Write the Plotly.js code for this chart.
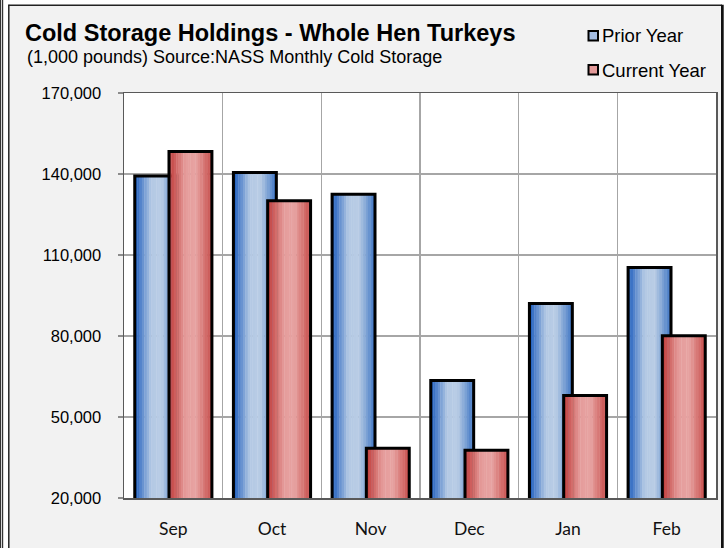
<!DOCTYPE html>
<html>
<head>
<meta charset="utf-8">
<script src="https://cdn.plot.ly/plotly-3.0.1.min.js"></script>
<style>
html,body{margin:0;padding:0;background:#fff;}
#chart{width:728px;height:548px;}
</style>
</head>
<body>
<div id="chart"></div>
<script>
// ---- data ----
const months = ['Sep', 'Oct', 'Nov', 'Dec', 'Jan', 'Feb'];
const priorYear = [139300, 140600, 132500, 63500, 92000, 105400];
const currentYear = [148300, 130100, 38400, 37700, 58000, 80100];
const seriesNames = ['Prior Year', 'Current Year'];
const yTickVals = [20000, 50000, 80000, 110000, 140000, 170000];

// ---- geometry / style ----
const W = 728, H = 548;
const M = {l: 124, r: 12, t: 93, b: 50};
const PW = W - M.l - M.r, PH = H - M.t - M.b;
const px2x = px => (px - M.l) / PW;
const py2y = py => 1 - (py - M.t) / PH;

const barW = 0.435, overlap = 0.088;
const off0 = -(2 * barW - overlap) / 2;
const offsets = [off0, off0 + barW - overlap];

const gradKeys = [
  [[0, '#1B5BBC'], [0.38, '#B3C8E4'], [0.62, '#B9CDE5'], [1, '#3A72C3']],
  [[0, '#C03B39'], [0.38, '#E59C9B'], [0.62, '#E7A3A2'], [1, '#C64A48']]
];
function hex2rgb(h){return [1,3,5].map(i=>parseInt(h.substr(i,2),16));}
function grad(keys, t){
  for (let i = 0; i < keys.length - 1; i++) {
    const [t0, c0] = keys[i], [t1, c1] = keys[i+1];
    if (t <= t1) {
      const f = (t - t0) / (t1 - t0);
      const a = hex2rgb(c0), b = hex2rgb(c1);
      return 'rgb(' + a.map((v, j) => Math.round(v + (b[j] - v) * f)).join(',') + ')';
    }
  }
  return keys[keys.length-1][1];
}

const N = 18;
const traces = [];
[priorYear, currentYear].forEach((vals, s) => {
  for (let k = 0; k < N; k++) {
    traces.push({
      type: 'bar', x: months, y: vals, name: seriesNames[s],
      width: barW / N * 1.15, offset: offsets[s] + k * barW / N,
      marker: {color: grad(gradKeys[s], (k + 0.5) / N), line: {width: 0}},
      showlegend: false, hoverinfo: 'skip'
    });
  }
  traces.push({
    type: 'bar', x: months, y: vals, name: seriesNames[s],
    width: barW, offset: offsets[s],
    marker: {color: 'rgba(0,0,0,0)', line: {color: '#000', width: 3}},
    showlegend: false
  });
});

const shapes = [
  // outer white margins and frame
  {type:'rect', xref:'paper', yref:'paper', x0:px2x(0), x1:px2x(8.3), y0:py2y(H), y1:py2y(0), fillcolor:'#fff', line:{width:0}},
  {type:'rect', xref:'paper', yref:'paper', x0:px2x(0), x1:px2x(W), y0:py2y(4.7), y1:py2y(0), fillcolor:'#fff', line:{width:0}},
  {type:'rect', xref:'paper', yref:'paper', x0:px2x(723.7), x1:px2x(W), y0:py2y(H), y1:py2y(0), fillcolor:'#fff', line:{width:0}},
  {type:'line', xref:'paper', yref:'paper', x0:px2x(0.6), x1:px2x(0.6), y0:py2y(H), y1:py2y(0), line:{color:'#333', width:1.2}},
  {type:'line', xref:'paper', yref:'paper', x0:px2x(2.6), x1:px2x(2.6), y0:py2y(H), y1:py2y(0), line:{color:'#333', width:1.2}},
  {type:'line', xref:'paper', yref:'paper', x0:px2x(8.8), x1:px2x(8.8), y0:py2y(H), y1:py2y(4.7), line:{color:'#222', width:1.5}},
  {type:'line', xref:'paper', yref:'paper', x0:px2x(8.3), x1:px2x(722), y0:py2y(5.2), y1:py2y(5.2), line:{color:'#222', width:1.5}},
  {type:'rect', xref:'paper', yref:'paper', x0:px2x(721), x1:px2x(723.7), y0:py2y(H), y1:py2y(4.7), fillcolor:'#111', line:{width:0}},
  // legend boxes
  {type:'rect', xref:'paper', yref:'paper', x0:px2x(588.5), x1:px2x(598), y0:py2y(40.5), y1:py2y(31), fillcolor:'#A3BDE3', line:{color:'#000', width:2}},
  {type:'rect', xref:'paper', yref:'paper', x0:px2x(588.5), x1:px2x(598), y0:py2y(74.5), y1:py2y(65), fillcolor:'#E39A99', line:{color:'#000', width:2}}
];

const annotations = [
  {xref:'paper', yref:'paper', x:px2x(25), y:py2y(57), xanchor:'left', yanchor:'middle', showarrow:false,
   text:'(1,000 pounds) Source:NASS Monthly Cold Storage', font:{family:'Liberation Sans, Arial', size:18, color:'#000'}},
  {xref:'paper', yref:'paper', x:px2x(600), y:py2y(36), xanchor:'left', yanchor:'middle', showarrow:false,
   text:seriesNames[0], font:{family:'Liberation Sans, Arial', size:18.5, color:'#000'}},
  {xref:'paper', yref:'paper', x:px2x(600), y:py2y(70), xanchor:'left', yanchor:'middle', showarrow:false,
   text:seriesNames[1], font:{family:'Liberation Sans, Arial', size:18.5, color:'#000'}}
];

const layout = {
  width: W, height: H,
  margin: M,
  paper_bgcolor: '#F2F2F2',
  plot_bgcolor: '#FFFFFF',
  barmode: 'overlay',
  showlegend: false,
  title: {
    text: '<b>Cold Storage Holdings - Whole Hen Turkeys</b>',
    xref: 'container', yref: 'container',
    x: 25 / W, xanchor: 'left', y: 1 - 33 / H, yanchor: 'middle',
    font: {family: 'Liberation Sans, Arial', size: 23.5, color: '#000'}
  },
  xaxis: {
    type: 'category', range: [-0.5, 5.5],
    tickson: 'boundaries', ticks: '', showgrid: true,
    gridcolor: '#A6A6A6', gridwidth: 1.5,
    showline: true, linecolor: '#595959', linewidth: 1.5, mirror: true,
    ticklabelstandoff: 14,
    tickfont: {family: 'Lato, Carlito, Calibri', size: 17.5, color: '#111'},
    fixedrange: true
  },
  yaxis: {
    range: [20000, 170000], tickvals: yTickVals, tickformat: ',',
    showgrid: true, gridcolor: '#A6A6A6', gridwidth: 1.5,
    showline: true, linecolor: '#595959', linewidth: 1.5, mirror: true,
    ticks: 'outside', ticklen: 5, tickcolor: '#8C8C8C', tickwidth: 1.5,
    ticklabelstandoff: 13,
    zeroline: false,
    tickfont: {family: 'Liberation Sans, Arial', size: 16.5, color: '#000'},
    fixedrange: true
  },
  shapes: shapes,
  annotations: annotations
};

Plotly.newPlot('chart', traces, layout, {displayModeBar: false, staticPlot: true});
</script>
</body>
</html>
